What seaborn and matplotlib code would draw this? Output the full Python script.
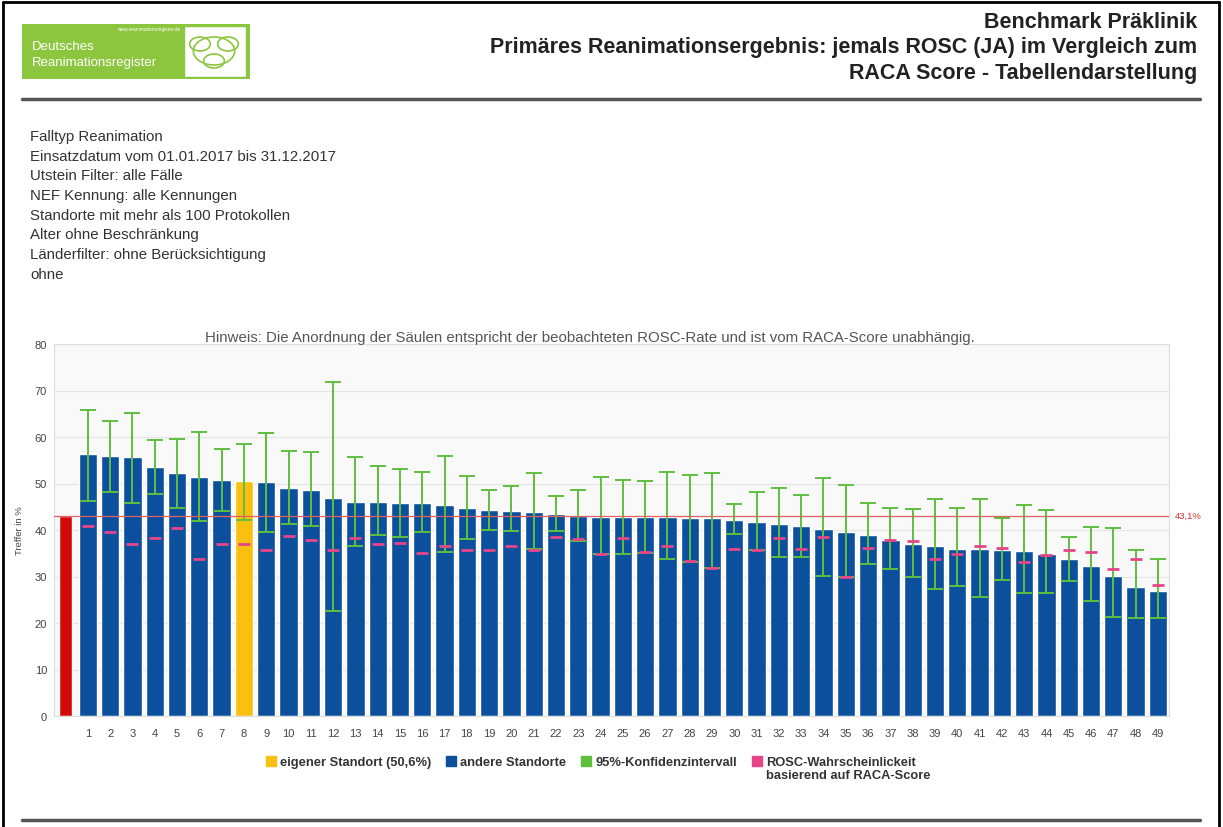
import matplotlib
matplotlib.use("Agg")
import matplotlib.pyplot as plt
from matplotlib.lines import Line2D
from matplotlib.patches import Rectangle, FancyBboxPatch, Circle
import seaborn as sns
import pandas as pd
import numpy as np

# ---------------- data ----------------
site_labels = [str(i) for i in range(1, 50)]
rosc_rate = [56.3, 55.9, 55.6, 53.5, 52.2, 51.5, 50.8, 50.6, 50.3, 49.0,
             48.6, 46.8, 46.1, 46.0, 45.7, 45.7, 45.4, 44.7, 44.3, 44.1,
             43.9, 43.4, 43.0, 42.9, 42.7, 42.7, 42.7, 42.5, 42.5, 42.2,
             41.8, 41.3, 40.8, 40.3, 39.5, 39.0, 37.9, 37.0, 36.5, 36.0,
             35.9, 35.7, 35.5, 34.8, 33.7, 32.3, 30.1, 27.8, 26.9]
ci_upper = [65.9, 63.4, 65.1, 59.4, 59.6, 61.1, 57.5, 58.5, 60.8, 56.9,
            56.7, 71.9, 55.7, 53.7, 53.1, 52.4, 56.0, 51.7, 48.6, 49.5,
            52.2, 47.4, 48.6, 51.3, 50.8, 50.6, 52.4, 51.9, 52.2, 45.6,
            48.2, 49.0, 47.6, 51.2, 49.7, 45.8, 44.7, 44.5, 46.6, 44.7,
            46.6, 42.5, 45.4, 44.3, 38.6, 40.7, 40.5, 35.7, 33.7]
ci_lower = [46.2, 48.2, 45.9, 47.7, 44.7, 42.0, 44.1, 42.1, 39.5, 41.3,
            40.9, 22.6, 36.6, 38.9, 38.4, 39.5, 35.3, 38.0, 40.0, 39.7,
            35.9, 39.8, 37.7, 34.9, 34.9, 35.0, 33.7, 33.2, 31.8, 39.1,
            35.7, 34.1, 34.3, 30.1, 29.8, 32.6, 31.6, 29.8, 27.3, 28.0,
            25.6, 29.3, 26.4, 26.4, 29.1, 24.8, 21.2, 21.0, 21.0]
raca_expected = [40.9, 39.5, 37.0, 38.2, 40.4, 33.7, 37.0, 37.0, 35.7, 38.7,
                 37.9, 35.7, 38.2, 37.0, 37.3, 35.0, 36.6, 35.7, 35.7, 36.6,
                 35.7, 38.4, 38.0, 34.9, 38.2, 35.3, 36.6, 33.4, 31.8, 35.9,
                 35.7, 38.2, 35.9, 38.4, 29.8, 36.2, 37.9, 37.6, 33.7, 34.9,
                 36.6, 36.2, 33.1, 34.7, 35.7, 35.3, 31.7, 33.7, 28.1]
own_site = "8"
overall_rate = 43.1
overall_label = "43,1%"
y_ticks = [0, 10, 20, 30, 40, 50, 60, 70, 80]

title_lines = ["Benchmark Präklinik",
               "Primäres Reanimationsergebnis: jemals ROSC (JA) im Vergleich zum",
               "RACA Score - Tabellendarstellung"]
filter_lines = ["Falltyp Reanimation",
                "Einsatzdatum vom 01.01.2017 bis 31.12.2017",
                "Utstein Filter: alle Fälle",
                "NEF Kennung: alle Kennungen",
                "Standorte mit mehr als 100 Protokollen",
                "Alter ohne Beschränkung",
                "Länderfilter: ohne Berücksichtigung",
                "ohne"]
note = ("Hinweis: Die Anordnung der Säulen entspricht der beobachteten ROSC-Rate "
        "und ist vom RACA-Score unabhängig.")
legend_labels = ["eigener Standort (50,6%)", "andere Standorte",
                 "95%-Konfidenzintervall", "ROSC-Wahrscheinlickeit"]
legend_extra_line = "basierend auf RACA-Score"

# colours
C_RED = "#d20a0a"
C_BLUE = "#0b4f9d"
C_YELLOW = "#fbbf10"
C_GREEN = "#5fbf3f"
C_PINK = "#e6458a"

# ---------------- figure ----------------
sns.set_style("white")
plt.rcParams["font.family"] = ["Liberation Sans", "DejaVu Sans"]

W, H = 1223, 828
fig = plt.figure(figsize=(W / 100, H / 100), dpi=100)


def fx(x):
    return x / W


def fy(y):
    return 1 - y / H


# page frame
fig.add_artist(Line2D([fx(3), fx(3)], [fy(3), fy(828)], color="black", lw=2))
fig.add_artist(Line2D([fx(3), fx(1219)], [fy(3), fy(3)], color="black", lw=2))
fig.add_artist(Line2D([fx(1219), fx(1219)], [fy(3), fy(828)], color="black", lw=2))
# separators
fig.add_artist(Line2D([fx(22), fx(1200)], [fy(100), fy(100)], color="#555555", lw=2.5))
fig.add_artist(Line2D([fx(22), fx(1200)], [fy(821), fy(821)], color="#555555", lw=2.5))

# logo
fig.add_artist(FancyBboxPatch((fx(22), fy(80)), fx(228), 55 / H,
                              boxstyle="square,pad=0", fc="#8cc63e", ec="none"))
fig.add_artist(Rectangle((fx(184), fy(78)), fx(62), 51 / H, fc="white",
                         ec="#8cc63e", lw=1))
for cx, cy, r in [(200, 45, 7), (228, 45, 7), (214, 62, 7), (214, 52, 14)]:
    fig.add_artist(Circle((fx(cx), fy(cy)), r / H, fc="none", ec="#8cc63e",
                          lw=1.2, transform=fig.transFigure))
fig.text(fx(32), fy(47), "Deutsches", color="white", fontsize=9.5,
         ha="left", va="center")
fig.text(fx(32), fy(63), "Reanimationsregister", color="white", fontsize=9.5,
         ha="left", va="center")
fig.text(fx(180), fy(30), "www.reanimationsregister.de", color="white",
         fontsize=3.5, ha="right", va="center")

# title
for i, line in enumerate(title_lines):
    fig.text(fx(1197), fy(22 + 26 * i), line, fontsize=15.5, fontweight="bold",
             color="#222222", ha="right", va="center")

# filter description
for i, line in enumerate(filter_lines):
    fig.text(fx(30), fy(137 + 19.7 * i), line, fontsize=10.8, color="#333333",
             ha="left", va="center")

# ---------------- chart ----------------
ax = fig.add_axes([fx(54), fy(717), fx(1169 - 54), (717 - 345) / H])
ax.set_facecolor("#f9f9f9")

all_labels = [""] + site_labels
df = pd.DataFrame({
    "label": all_labels,
    "value": [overall_rate] + rosc_rate,
    "group": ["ref"] + ["own" if s == own_site else "other" for s in site_labels],
})

sns.barplot(data=df[df["group"] != "ref"], x="label", y="value", order=all_labels,
            hue="group", palette={"own": C_YELLOW, "other": C_BLUE},
            dodge=False, width=0.82, saturation=1, legend=False, ax=ax, zorder=2)
sns.barplot(data=df[df["group"] == "ref"], x="label", y="value", order=all_labels,
            color=C_RED, width=0.58, saturation=1, ax=ax, zorder=2)

pos = np.arange(1, len(site_labels) + 1)
mid = (np.array(ci_upper) + np.array(ci_lower)) / 2
err = [mid - np.array(ci_lower), np.array(ci_upper) - mid]
ax.errorbar(pos, mid, yerr=err, fmt="none", ecolor=C_GREEN, elinewidth=1.4,
            capsize=5.5, capthick=1.4, zorder=3)
ax.plot(pos, raca_expected, linestyle="none", marker="_", markersize=8,
        markeredgewidth=2, color=C_PINK, zorder=4)

ax.axhline(overall_rate, color="#e06060", lw=0.9, zorder=3.5)
ax.text(1.005, overall_rate, overall_label, transform=ax.get_yaxis_transform(),
        color="#e03030", fontsize=6.8, ha="left", va="center")

ax.set_xlim(-0.52, 49.5)
ax.set_ylim(0, 80)
ax.set_yticks(y_ticks)
ax.yaxis.grid(True, color="#e4e4e4", lw=0.8, zorder=0)
ax.set_axisbelow(True)
for sp in ax.spines.values():
    sp.set_color("#dddddd")
    sp.set_linewidth(0.8)
ax.tick_params(axis="both", length=0, labelsize=8, colors="#444444")
ax.tick_params(axis="x", pad=9)
ax.tick_params(axis="y", pad=5)
ax.set_xlabel("")
ax.set_ylabel("Treffer in %", fontsize=6.8, color="#444444", labelpad=8)

fig.text(fx(590), fy(338), note, fontsize=10.8, color="#555555",
         ha="center", va="center")

handles = [Line2D([], [], ls="none", marker="s", markersize=7, color=c)
           for c in (C_YELLOW, C_BLUE, C_GREEN, C_PINK)]
leg = fig.legend(handles, legend_labels, loc="upper left",
                 bbox_to_anchor=(fx(261), fy(752)), ncol=4, frameon=False,
                 fontsize=9.3, handlelength=0.7, handletextpad=0.35,
                 columnspacing=1.2, borderaxespad=0)
for t in leg.get_texts():
    t.set_fontweight("bold")
    t.set_color("#333333")

# second line of the last legend entry, placed right under its first line
fig.canvas.draw()
renderer = fig.canvas.get_renderer()
bb = leg.get_texts()[-1].get_window_extent(renderer)
inv = fig.transFigure.inverted()
x0, y0 = inv.transform((bb.x0, bb.y0))
fig.text(x0, y0 - 1 / H, legend_extra_line, fontsize=9.3, fontweight="bold",
         color="#333333", ha="left", va="top")

fig.savefig("out.png", dpi=100)
